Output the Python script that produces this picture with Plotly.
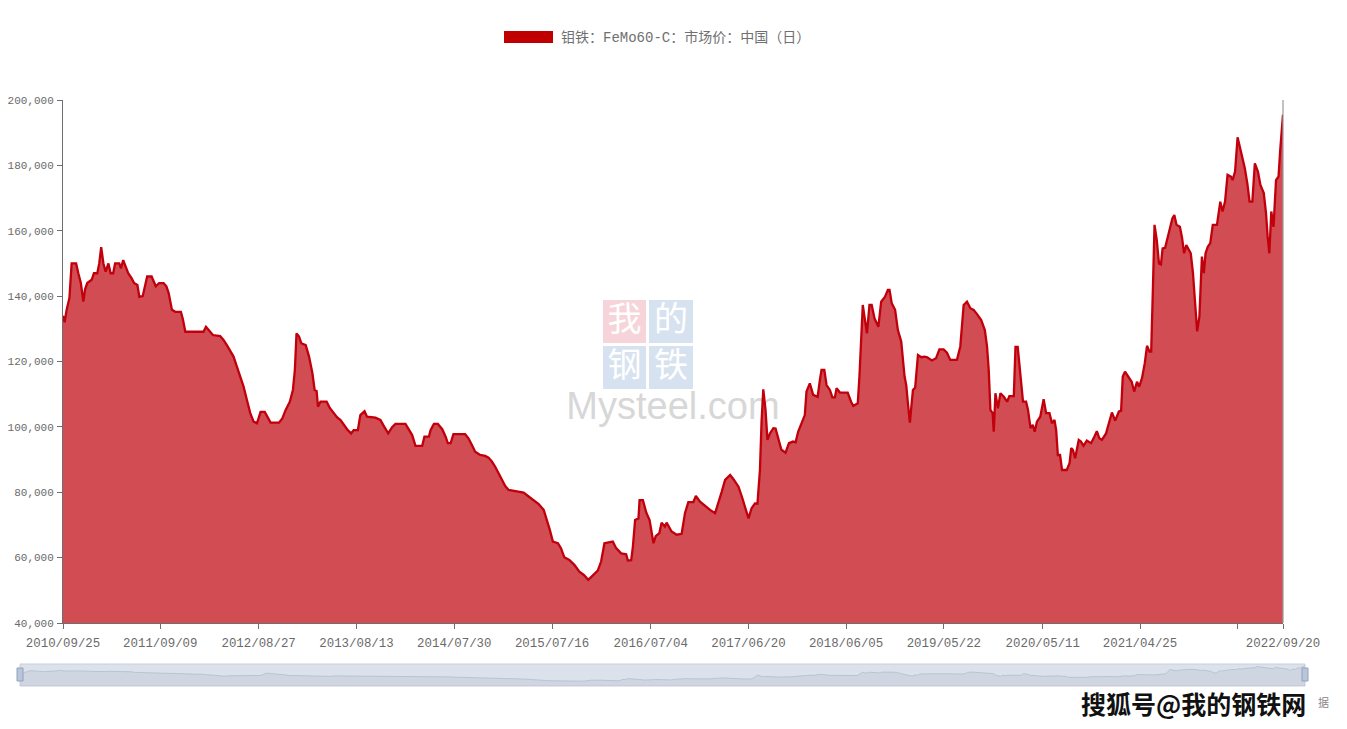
import plotly.graph_objects as go

# ---------------- data ----------------
series_name = "钼铁：FeMo60-C：市场价：中国（日）"

dates = [
    "2010-09-25", "2010-10-01", "2010-10-08", "2010-10-18", "2010-10-26", "2010-11-11", "2010-11-19",
    "2010-11-28", "2010-12-07", "2010-12-13", "2010-12-21", "2011-01-06", "2011-01-14", "2011-01-26",
    "2011-02-02", "2011-02-09", "2011-02-17", "2011-02-25", "2011-03-07", "2011-03-15", "2011-03-24",
    "2011-03-31", "2011-04-15", "2011-04-21", "2011-04-29", "2011-05-08", "2011-05-17", "2011-05-29",
    "2011-06-07", "2011-06-19", "2011-06-26", "2011-07-08", "2011-07-16", "2011-07-24", "2011-08-09",
    "2011-08-15", "2011-08-24", "2011-09-05", "2011-09-21", "2011-10-01", "2011-10-09", "2011-10-21",
    "2011-11-02", "2011-11-22", "2011-11-29", "2011-12-08", "2012-02-11", "2012-02-20", "2012-02-29",
    "2012-03-16", "2012-04-11", "2012-04-23", "2012-05-05", "2012-05-17", "2012-05-29", "2012-06-10",
    "2012-06-22", "2012-07-04", "2012-07-16", "2012-07-28", "2012-08-09", "2012-08-21", "2012-09-03",
    "2012-09-18", "2012-10-09", "2012-11-08", "2012-11-20", "2012-12-02", "2012-12-17", "2012-12-28",
    "2013-01-04", "2013-01-10", "2013-01-19", "2013-01-27", "2013-02-12", "2013-02-24", "2013-03-08",
    "2013-03-16", "2013-03-23", "2013-03-28", "2013-04-06", "2013-04-28", "2013-05-10", "2013-05-24",
    "2013-06-05", "2013-06-17", "2013-06-29", "2013-07-13", "2013-07-25", "2013-08-03", "2013-08-18",
    "2013-08-27", "2013-09-11", "2013-09-20", "2013-10-20", "2013-11-07", "2013-11-19", "2013-12-05",
    "2013-12-19", "2013-12-31", "2014-02-05", "2014-02-17", "2014-03-01", "2014-03-13", "2014-04-06",
    "2014-04-14", "2014-04-30", "2014-05-06", "2014-05-18", "2014-06-01", "2014-06-17", "2014-06-29",
    "2014-07-07", "2014-07-17", "2014-07-27", "2014-09-07", "2014-09-19", "2014-10-01", "2014-10-13",
    "2014-10-31", "2014-11-18", "2014-11-30", "2014-12-12", "2014-12-24", "2015-01-05", "2015-01-17",
    "2015-01-29", "2015-02-10", "2015-02-28", "2015-04-05", "2015-04-23", "2015-05-11", "2015-05-29",
    "2015-06-16", "2015-06-28", "2015-07-08", "2015-07-19", "2015-08-06", "2015-08-17", "2015-08-29",
    "2015-09-16", "2015-10-04", "2015-10-22", "2015-11-07", "2015-11-23", "2015-12-09", "2015-12-27",
    "2016-01-08", "2016-01-20", "2016-02-19", "2016-03-02", "2016-03-20", "2016-04-07", "2016-04-13",
    "2016-04-25", "2016-05-01", "2016-05-09", "2016-05-21", "2016-05-25", "2016-06-06", "2016-06-18",
    "2016-06-30", "2016-07-14", "2016-07-22", "2016-08-04", "2016-08-12", "2016-08-24", "2016-08-30",
    "2016-09-17", "2016-10-05", "2016-10-23", "2016-11-04", "2016-11-16", "2016-12-04", "2016-12-13",
    "2016-12-28", "2017-01-15", "2017-02-02", "2017-02-20", "2017-03-04", "2017-03-16", "2017-03-28",
    "2017-04-15", "2017-04-27", "2017-05-15", "2017-05-27", "2017-06-10", "2017-06-20", "2017-07-01",
    "2017-07-13", "2017-07-22", "2017-07-31", "2017-08-06", "2017-08-12", "2017-08-20", "2017-08-27",
    "2017-09-05", "2017-09-17", "2017-09-25", "2017-10-05", "2017-10-16", "2017-10-31", "2017-11-12",
    "2017-11-27", "2017-12-06", "2017-12-15", "2017-12-27", "2018-01-08", "2018-01-14", "2018-01-26",
    "2018-02-07", "2018-02-23", "2018-03-03", "2018-03-09", "2018-03-19", "2018-03-27", "2018-04-08",
    "2018-04-17", "2018-04-26", "2018-05-02", "2018-05-14", "2018-06-11", "2018-06-23", "2018-07-01",
    "2018-07-17", "2018-07-23", "2018-08-04", "2018-08-10", "2018-08-19", "2018-08-28", "2018-09-05",
    "2018-09-15", "2018-09-29", "2018-10-09", "2018-10-23", "2018-11-02", "2018-11-08", "2018-11-16",
    "2018-11-28", "2018-12-08", "2018-12-20", "2019-01-01", "2019-01-07", "2019-01-13", "2019-01-20",
    "2019-01-31", "2019-02-08", "2019-02-18", "2019-03-02", "2019-03-14", "2019-03-23", "2019-04-09",
    "2019-04-24", "2019-05-06", "2019-05-21", "2019-06-02", "2019-06-14", "2019-07-08", "2019-07-20",
    "2019-08-01", "2019-08-13", "2019-08-25", "2019-09-06", "2019-09-18", "2019-10-03", "2019-10-16",
    "2019-10-24", "2019-10-30", "2019-11-05", "2019-11-13", "2019-11-17", "2019-11-23", "2019-12-02",
    "2019-12-11", "2019-12-23", "2020-01-04", "2020-01-12", "2020-01-28", "2020-02-03", "2020-02-11",
    "2020-02-17", "2020-02-24", "2020-03-01", "2020-03-12", "2020-03-19", "2020-03-28", "2020-04-05",
    "2020-04-12", "2020-04-20", "2020-05-02", "2020-05-14", "2020-05-23", "2020-06-04", "2020-06-13",
    "2020-06-22", "2020-06-28", "2020-07-04", "2020-07-12", "2020-07-19", "2020-08-05", "2020-08-15",
    "2020-08-21", "2020-08-27", "2020-09-04", "2020-09-17", "2020-09-25", "2020-10-04", "2020-10-16",
    "2020-10-31", "2020-11-12", "2020-11-21", "2020-11-30", "2020-12-09", "2020-12-24", "2021-01-05",
    "2021-01-14", "2021-01-26", "2021-02-08", "2021-02-16", "2021-02-22", "2021-03-02", "2021-03-14",
    "2021-03-26", "2021-04-04", "2021-04-14", "2021-04-22", "2021-05-02", "2021-05-12", "2021-05-20",
    "2021-05-29", "2021-06-04", "2021-06-10", "2021-06-16", "2021-06-24", "2021-07-02", "2021-07-09",
    "2021-07-15", "2021-07-24", "2021-08-02", "2021-08-10", "2021-08-19", "2021-08-26", "2021-09-03",
    "2021-09-15", "2021-09-23", "2021-09-30", "2021-10-08", "2021-10-24", "2021-11-01", "2021-11-07",
    "2021-11-16", "2021-11-24", "2021-12-03", "2021-12-10", "2021-12-16", "2021-12-24", "2022-01-02",
    "2022-01-11", "2022-01-26", "2022-02-07", "2022-02-15", "2022-02-24", "2022-03-05", "2022-03-17",
    "2022-03-23", "2022-04-01", "2022-04-10", "2022-04-18", "2022-04-27", "2022-05-06", "2022-05-15",
    "2022-05-23", "2022-06-02", "2022-06-11", "2022-06-22", "2022-07-01", "2022-07-13", "2022-07-21",
    "2022-07-27", "2022-08-02", "2022-08-09", "2022-08-17", "2022-08-26", "2022-09-04", "2022-09-10",
    "2022-09-16", "2022-09-20",
]

prices = [
    134000, 132000, 135800, 139400, 150000, 150000, 147000,
    144000, 138300, 142000, 144000, 145000, 147000, 147000,
    150000, 155000, 150000, 147500, 150000, 147000, 147000,
    150000, 150000, 148500, 151000, 149000, 147000, 145500,
    144000, 143400, 139800, 140000, 143000, 146000, 146000,
    145000, 143000, 144000, 144000, 143000, 141000, 135800,
    135200, 135200, 133000, 129100, 129100, 130600, 129600,
    128100, 127800, 126600, 125000, 123000, 121500, 118400,
    115400, 112300, 108200, 104200, 101600, 101100, 104600,
    104600, 101300, 101300, 102600, 105200, 107700, 111300,
    117400, 128600, 127600, 125600, 125000, 121500, 116400,
    111300, 111000, 106200, 107700, 107700, 105700, 104300,
    102900, 102100, 100600, 99000, 98000, 99000, 99000,
    103600, 104800, 103100, 102800, 102100, 100300, 98000,
    99900, 100900, 100900, 99300, 97500, 94200, 94200,
    97000, 97000, 99000, 100900, 100900, 99300, 97000,
    95000, 95000, 97800, 97800, 96500, 94500, 92400,
    91400, 91100, 90600, 89400, 87800, 85800, 83800,
    81900, 80700, 80500, 79900, 78700, 77600, 76400,
    74600, 71500, 68500, 64900, 64400, 62900, 60100,
    59300, 57800, 55700, 54700, 53200, 54400, 56000,
    58800, 64400, 64900, 62900, 61300, 61000, 59100,
    59200, 63300, 71500, 72000, 77600, 77600, 73800,
    71500, 64400, 66600, 67500, 70700, 69500, 70700,
    68000, 67000, 67300, 73600, 77000, 77000, 78900,
    77100, 75800, 74600, 73600, 76600, 80200, 83800,
    85300, 84000, 81700, 78700, 74600, 72000, 75100,
    76600, 76500, 86800, 102100, 111500, 105200, 96000,
    98000, 99600, 99500, 96000, 93000, 92100, 95000,
    95500, 95300, 98500, 101100, 103600, 110800, 113300,
    109800, 109200, 114300, 117400, 117400, 112800, 111300,
    109000, 109000, 111800, 110500, 110500, 107700, 106400,
    107200, 115400, 137300, 133700, 128600, 137300, 137300,
    133200, 130600, 138300, 139800, 141900, 141900, 137800,
    135800, 129600, 126100, 115400, 112800, 107200, 101300,
    111300, 112000, 122000, 121300, 121500, 121300, 120300,
    121000, 123700, 123700, 122700, 120500, 120500, 124600,
    137300, 138300, 136300, 135800, 134500, 132700, 129600,
    124500, 117400, 105200, 104200, 98500, 110300, 105700,
    110300, 109200, 107700, 109400, 109400, 124500, 124500,
    119500, 113300, 107700, 107700, 105200, 99600, 100600,
    98500, 101600, 103100, 108500, 104200, 104200, 101100,
    102100, 99000, 91400, 91400, 86800, 86800, 88900,
    93500, 93000, 90400, 96000, 95500, 94200, 95800,
    95000, 97000, 98700, 96500, 96000, 98000, 102100,
    104400, 101900, 104700, 104900, 115400, 116900, 115400,
    113800, 110800, 113800, 112300, 114900, 119500, 124800,
    123000, 123000, 141900, 161800, 157200, 150000, 149700,
    154600, 154800, 158200, 160800, 163800, 164800, 161800,
    161200, 157700, 153100, 155600, 153100, 147000, 139800,
    129200, 133700, 152100, 147000, 153100, 155100, 156200,
    161800, 161800, 168900, 165900, 168900, 177100, 176600,
    175500, 178100, 188600, 185700, 182200, 179100, 174500,
    168900, 168900, 180600, 178100, 174000, 171500, 165400,
    158200, 153100, 165900, 161200, 175500, 176600, 184700,
    190800, 195500,
]

x_tick_dates = ["2010-09-25", "2011-09-09", "2012-08-27", "2013-08-13", "2014-07-30", "2015-07-16",
                "2016-07-04", "2017-06-20", "2018-06-05", "2019-05-22", "2020-05-11", "2021-04-25",
                "2022-04-10", "2022-09-20"]
x_tick_labels = ["2010/09/25", "2011/09/09", "2012/08/27", "2013/08/13", "2014/07/30", "2015/07/16",
                 "2016/07/04", "2017/06/20", "2018/06/05", "2019/05/22", "2020/05/11", "2021/04/25",
                 "", "2022/09/20"]
y_tick_vals = [40000, 60000, 80000, 100000, 120000, 140000, 160000, 180000, 200000]
y_tick_labels = ["40,000", "60,000", "80,000", "100,000", "120,000", "140,000",
                 "160,000", "180,000", "200,000"]

watermark_chars = ["我", "的", "钢", "铁"]
watermark_text = "Mysteel.com"
sohu_text = "搜狐号@我的钢铁网"
source_fragment = "据"

# ---------------- layout geometry ----------------
# the page body adds an 8px offset, so the figure is sized to fill the rest of the window
OFF = 8
W, H = 1347 - OFF, 729 - OFF
ML, MR, MT, MB = 20 - OFF, 42, 100 - OFF, 43
PW, PH = W - ML - MR, H - MT - MB


def px(x):
    """screen x (pixels) -> paper fraction"""
    return (x - OFF - ML) / PW


def py(y):
    """screen y (pixels) -> paper fraction"""
    return (H - MB - (y - OFF)) / PH


LINE = "#c1000c"
FILL = "#d14c53"
AXIS = "#6e6e6e"
TXT = "#6a6a6a"
MONO = "Liberation Mono, DejaVu Sans Mono, monospace"
LEGEND_FONT = "Liberation Mono, Noto Sans CJK SC, monospace"
CJK = "Noto Sans CJK SC, sans-serif"

fig = go.Figure()

fig.add_trace(go.Scatter(
    x=dates, y=prices, name=series_name, mode="lines",
    line=dict(color=LINE, width=2.3), fill="tozeroy", fillcolor=FILL,
    showlegend=False, xaxis="x", yaxis="y",
))

# data shadow in the zoom slider
fig.add_trace(go.Scatter(
    x=dates, y=prices, mode="lines", line=dict(color="#b3bccc", width=0.8),
    fill="tozeroy", fillcolor="rgba(150,162,185,0.18)",
    showlegend=False, hoverinfo="skip", xaxis="x2", yaxis="y2",
))

main_domain_x = [px(63), px(1283)]
main_domain_y = [py(623), py(100)]

fig.update_layout(
    width=W, height=H,
    margin=dict(l=ML, r=MR, t=MT, b=MB, autoexpand=False),
    paper_bgcolor="white", plot_bgcolor="rgba(0,0,0,0)",
    showlegend=False,
    xaxis=dict(
        type="date", domain=main_domain_x, anchor="y", automargin=False,
        range=[dates[0], dates[-1]],
        tickmode="array", tickvals=x_tick_dates, ticktext=x_tick_labels,
        ticks="outside", ticklen=5, tickcolor=AXIS, tickwidth=1,
        showline=True, linecolor=AXIS, linewidth=1,
        showgrid=False, zeroline=False, ticklabelstandoff=3,
        tickfont=dict(family=MONO, size=12.4, color=TXT),
    ),
    yaxis=dict(
        domain=main_domain_y, anchor="x", automargin=False,
        range=[40000, 200000],
        tickmode="array", tickvals=y_tick_vals, ticktext=y_tick_labels,
        ticks="outside", ticklen=5, tickcolor=AXIS, tickwidth=1,
        showline=True, linecolor=AXIS, linewidth=1,
        showgrid=False, zeroline=False, ticklabelstandoff=1,
        tickfont=dict(family=MONO, size=11, color=TXT),
    ),
    xaxis2=dict(
        type="date", domain=[px(20), px(1305)], anchor="y2", automargin=False,
        range=[dates[0], dates[-1]], visible=False, fixedrange=True,
    ),
    yaxis2=dict(
        domain=[py(686), py(664)], anchor="x2", automargin=False,
        range=[12000, 212000], visible=False, fixedrange=True,
    ),
)

shapes = []
# right edge vertical line
shapes.append(dict(type="line", xref="paper", yref="paper",
                   x0=px(1283), x1=px(1283), y0=py(623), y1=py(100),
                   line=dict(color="#999999", width=1.2)))
# slider background
shapes.append(dict(type="rect", xref="paper", yref="paper",
                   x0=px(20), x1=px(1305), y0=py(686), y1=py(664),
                   fillcolor="#dce2ec", line=dict(color="#c8cfdb", width=1), layer="below"))
# slider handles
for hx in (20, 1305):
    shapes.append(dict(type="rect", xref="paper", yref="paper",
                       x0=px(hx - 3), x1=px(hx + 3), y0=py(681), y1=py(668),
                       fillcolor="#b9c5d8", line=dict(color="#90a2bd", width=1)))
# legend swatch
shapes.append(dict(type="rect", xref="paper", yref="paper",
                   x0=px(504), x1=px(553), y0=py(43), y1=py(31),
                   fillcolor="#c00000", line=dict(width=0)))
# watermark squares with characters
boxes = [(603, 646, 300, 343, "#f6d4da"), (649, 693, 300, 343, "#d7e2f0"),
         (603, 646, 346, 389, "#d7e2f0"), (649, 693, 346, 389, "#d7e2f0")]
for (x0, x1, y0, y1, col), ch in zip(boxes, watermark_chars):
    shapes.append(dict(type="rect", xref="paper", yref="paper",
                       x0=px(x0), x1=px(x1), y0=py(y1), y1=py(y0),
                       fillcolor=col, line=dict(width=0), layer="below",
                       label=dict(text=ch, font=dict(family=CJK, size=34, color="white"),
                                  textposition="middle center")))
shapes.append(dict(type="rect", xref="paper", yref="paper",
                   x0=px(570), x1=px(776), y0=py(432), y1=py(372),
                   fillcolor="rgba(0,0,0,0)", line=dict(width=0), layer="below",
                   label=dict(text=watermark_text,
                              font=dict(family="Liberation Sans, Arial, sans-serif", size=38,
                                        color="#d7d7d7"),
                              textposition="middle center")))
fig.update_layout(shapes=shapes)

annotations = [
    dict(text=series_name, xref="paper", yref="paper", x=px(559), y=py(37),
         xanchor="left", yanchor="middle", showarrow=False,
         font=dict(family=LEGEND_FONT, size=14, color="#707070")),
    dict(text=source_fragment, xref="paper", yref="paper", x=px(1331), y=py(702),
         xanchor="right", yanchor="middle", showarrow=False,
         font=dict(family=CJK, size=11, color="#888888")),
    dict(text=sohu_text, xref="paper", yref="paper", x=px(1079), y=py(703),
         xanchor="left", yanchor="middle", showarrow=False,
         font=dict(family=CJK, size=25, color="#111111", weight="bold",
                   shadow="1px 1px 0 #fff, -1px -1px 0 #fff, 1px -1px 0 #fff, -1px 1px 0 #fff, 0 0 2px #fff")),
]
fig.update_layout(annotations=annotations)

fig.write_html("out.html")
